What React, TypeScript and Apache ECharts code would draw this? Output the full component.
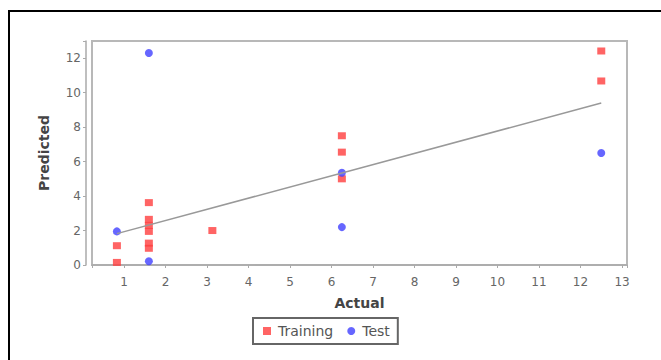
import React, { useEffect, useRef } from "react";
import * as echarts from "echarts";

const trainingPoints: [number, number][] = [
  [0.83, 1.12],
  [0.83, 0.15],
  [1.6, 3.62],
  [1.6, 2.65],
  [1.6, 2.3],
  [1.6, 1.95],
  [1.6, 1.27],
  [1.6, 0.97],
  [3.13, 2.0],
  [6.25, 7.5],
  [6.25, 6.55],
  [6.25, 5.0],
  [12.5, 12.42],
  [12.5, 10.68],
];

const testPoints: [number, number][] = [
  [0.83, 1.95],
  [1.6, 12.3],
  [1.6, 0.22],
  [6.25, 5.35],
  [6.25, 2.2],
  [12.5, 6.5],
];

const fitLine: [number, number][] = [
  [0.83, 1.82],
  [12.5, 9.4],
];

const seriesNames = ["Training", "Test"];
const xTitle = "Actual";
const yTitle = "Predicted";

export default function App() {
  const ref = useRef<HTMLDivElement>(null);
  useEffect(() => {
    if (!ref.current) return;
    const chart = echarts.init(ref.current, undefined, { renderer: "svg" });
    const labelColor = "#666";
    chart.setOption({
      animation: false,
      backgroundColor: "#fff",
      textStyle: { fontFamily: "DejaVu Sans" },
      graphic: [
        {
          type: "rect",
          shape: { x: 9, y: 11, width: 700, height: 400 },
          style: { fill: "none", stroke: "#000", lineWidth: 2 },
          z: 100,
        },
      ],
      grid: {
        left: 92,
        right: 34,
        top: 41,
        bottom: 95,
        show: true,
        borderColor: "#b8b8b8",
        borderWidth: 2,
        backgroundColor: "#fff",
      },
      legend: {
        data: [
          { name: seriesNames[0], icon: "rect" },
          { name: seriesNames[1], icon: "circle" },
        ],
        left: 253,
        top: 318,
        padding: [6, 8, 6, 10],
        itemWidth: 8,
        itemHeight: 8,
        itemGap: 14,
        borderColor: "#666",
        borderWidth: 2,
        textStyle: { fontSize: 14, color: "#555", fontFamily: "DejaVu Sans", padding: [0, 0, 0, 2] },
      },
      xAxis: {
        type: "value",
        min: 0.23,
        max: 13.12,
        minInterval: 1,
        maxInterval: 1,
        splitNumber: 13,
        offset: 6,
        name: xTitle,
        nameLocation: "middle",
        nameGap: 25,
        nameTextStyle: { fontSize: 14, fontWeight: "bold", color: "#444" },
        axisLine: { show: true, lineStyle: { color: "#aaa", width: 1.5 } },
        axisTick: { show: true, length: 3, lineStyle: { color: "#aaa" } },
        axisLabel: {
          color: labelColor,
          fontSize: 12,
          margin: 5,
          formatter: (v: number) => (Number.isInteger(v) ? String(v) : ""),
        },
        splitLine: { show: false },
      },
      yAxis: {
        type: "value",
        min: 0,
        max: 13,
        minInterval: 2,
        maxInterval: 2,
        offset: 6,
        name: yTitle,
        nameLocation: "middle",
        nameGap: 35,
        nameTextStyle: { fontSize: 14, fontWeight: "bold", color: "#444" },
        axisLine: { show: true, lineStyle: { color: "#aaa", width: 1.5 } },
        axisTick: { show: true, length: 3, lineStyle: { color: "#aaa" } },
        axisLabel: {
          color: labelColor,
          fontSize: 12,
          margin: 5,
          formatter: (v: number) => (v % 2 === 0 ? String(v) : ""),
        },
        splitLine: { show: false },
      },
      series: [
        {
          name: seriesNames[0],
          type: "scatter",
          symbol: "rect",
          symbolSize: [8, 7],
          itemStyle: { color: "#ff3d3d" },
          data: trainingPoints,
          z: 2,
        },
        {
          name: seriesNames[1],
          type: "scatter",
          symbol: "circle",
          symbolSize: 8,
          itemStyle: { color: "#4040ff" },
          data: testPoints,
          z: 3,
        },
        {
          name: "fit",
          type: "line",
          showSymbol: false,
          symbol: "none",
          lineStyle: { color: "#999", width: 1.5 },
          data: fitLine,
          z: 4,
        },
      ],
    });
    return () => chart.dispose();
  }, []);
  return (
    <div
      ref={ref}
      style={{ position: "absolute", left: 0, top: 0, width: 661, height: 360 }}
    />
  );
}
